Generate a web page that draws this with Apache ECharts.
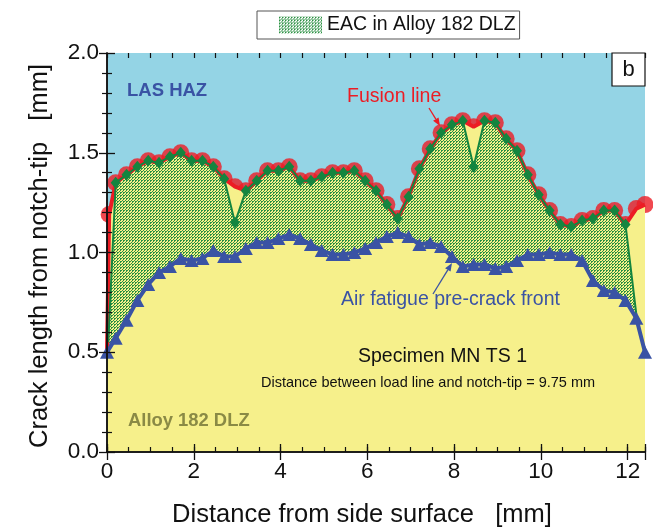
<!DOCTYPE html>
<html>
<head>
<meta charset="utf-8">
<script src="https://cdn.jsdelivr.net/npm/echarts@6/dist/echarts.min.js"></script>
<style>
  html, body { margin: 0; padding: 0; background: #ffffff; }
  #chart { width: 653px; height: 529px; }
</style>
</head>
<body>
<div id="chart"></div>
<script>
// Fusion line (LAS HAZ / Alloy 182 boundary), mm
const fusionX = [0, 0.05, 0.2, 0.45, 0.7, 0.95, 1.2, 1.45, 1.7, 1.95, 2.2, 2.45, 2.7, 2.95, 3.2, 3.45, 3.7, 3.95,
  4.2, 4.45, 4.7, 4.95, 5.2, 5.45, 5.7, 5.95, 6.2, 6.45, 6.7, 6.95, 7.2, 7.45, 7.7, 7.95, 8.2, 8.45, 8.7, 8.95,
  9.2, 9.45, 9.7, 9.95, 10.2, 10.45, 10.7, 10.95, 11.2, 11.45, 11.7, 11.95, 12.2, 12.4];
const fusionY = [0.50, 1.19, 1.35, 1.39, 1.43, 1.46, 1.45, 1.48, 1.50, 1.46, 1.46, 1.43, 1.37, 1.33, 1.31, 1.36, 1.41, 1.41,
  1.43, 1.36, 1.36, 1.38, 1.40, 1.40, 1.41, 1.36, 1.31, 1.24, 1.17, 1.28, 1.42, 1.52, 1.60, 1.64, 1.66, 1.63, 1.66, 1.65,
  1.57, 1.51, 1.39, 1.29, 1.21, 1.14, 1.13, 1.16, 1.17, 1.21, 1.21, 1.14, 1.22, 1.24];

// EAC crack front in Alloy 182 DLZ, mm
const eacX = [0.03, 0.2, 0.45, 0.7, 0.95, 1.2, 1.45, 1.7, 1.95, 2.2, 2.45, 2.7, 2.95, 3.2, 3.45, 3.7, 3.95,
  4.2, 4.45, 4.7, 4.95, 5.2, 5.45, 5.7, 5.95, 6.2, 6.45, 6.7, 6.95, 7.2, 7.45, 7.7, 7.95, 8.2, 8.45, 8.7, 8.95,
  9.2, 9.45, 9.7, 9.95, 10.2, 10.45, 10.7, 10.95, 11.2, 11.45, 11.7, 11.95, 12.2];
const eacY = [0.55, 1.35, 1.39, 1.43, 1.46, 1.45, 1.48, 1.50, 1.46, 1.46, 1.43, 1.37, 1.15, 1.31, 1.36, 1.41, 1.41,
  1.43, 1.36, 1.36, 1.38, 1.40, 1.40, 1.41, 1.36, 1.31, 1.24, 1.17, 1.28, 1.42, 1.52, 1.60, 1.64, 1.66, 1.43, 1.66, 1.65,
  1.57, 1.51, 1.39, 1.29, 1.21, 1.14, 1.13, 1.16, 1.17, 1.21, 1.21, 1.14, 0.69];

// Air fatigue pre-crack front, mm
const precrackX = [0, 0.2, 0.45, 0.7, 0.95, 1.2, 1.45, 1.7, 1.95, 2.2, 2.45, 2.7, 2.95, 3.2, 3.45, 3.7, 3.95,
  4.2, 4.45, 4.7, 4.95, 5.2, 5.45, 5.7, 5.95, 6.2, 6.45, 6.7, 6.95, 7.2, 7.45, 7.7, 7.95, 8.2, 8.45, 8.7, 8.95,
  9.2, 9.45, 9.7, 9.95, 10.2, 10.45, 10.7, 10.95, 11.2, 11.45, 11.7, 11.95, 12.2, 12.4];
const precrackY = [0.50, 0.57, 0.66, 0.76, 0.84, 0.90, 0.93, 0.97, 0.96, 0.97, 1.01, 0.98, 0.98, 1.02, 1.05, 1.05, 1.07,
  1.09, 1.07, 1.04, 1.01, 0.99, 0.99, 1.00, 1.02, 1.05, 1.08, 1.10, 1.08, 1.04, 1.05, 1.03, 0.98, 0.93, 0.94, 0.94, 0.92,
  0.93, 0.96, 0.99, 0.99, 1.00, 0.99, 0.99, 0.96, 0.86, 0.81, 0.80, 0.76, 0.67, 0.50];

// Axis tick labels
const xTickLabels = ['0', '2', '4', '6', '8', '10', '12'];
const yTickLabels = ['0.0', '0.5', '1.0', '1.5', '2.0'];

const BLUE_BG = '#94d4e5';
const YELLOW = '#f6f08b';
const RED = '#ec1c24';
const GREEN = '#14853f';
const BLUE = '#3a53a4';
const FONT = '"Liberation Sans", Arial, Helvetica, sans-serif';

function pts(xs, ys) { return xs.map((x, i) => [x, ys[i]]); }

// Cross-hatch tile for the EAC area (transparent gaps let the fill below show through)
function hatchTile() {
  const c = document.createElement('canvas');
  c.width = 3; c.height = 3;
  const g = c.getContext('2d');
  g.fillStyle = '#2a9042';
  g.fillRect(0, 0, 2, 1);
  g.fillRect(0, 1, 1, 1);
  g.fillRect(2, 2, 1, 1);
  return c;
}
const hatch = { image: hatchTile(), repeat: 'repeat' };

const chart = echarts.init(document.getElementById('chart'), null, { renderer: 'canvas' });

const gridBox = { left: 107, top: 53, right: 8, bottom: 77 };
const axisLine = { show: true, lineStyle: { color: '#111', width: 1.5 } };

function majorX(pos, labels) {
  return {
    type: 'value', gridIndex: 0, position: pos, min: 0, max: 12.4, interval: 2, z: 10,
    axisLine: axisLine,
    axisTick: { show: true, inside: true, length: 8, lineStyle: { color: '#111', width: 1.3 } },
    axisLabel: labels ? {
      show: true, margin: 8, fontSize: 22.5, fontFamily: FONT, color: '#111',
      formatter: v => { const s = xTickLabels.find(t => Math.abs(Number(t) - v) < 1e-6); return s || ''; }
    } : { show: false },
    splitLine: { show: false }
  };
}
function minorX(pos) {
  return {
    type: 'value', gridIndex: 1, position: pos, min: 0, max: 12.4, interval: 0.5, z: 10,
    axisLine: { show: false },
    axisTick: { show: true, inside: true, length: 5, lineStyle: { color: '#111', width: 1.2 } },
    axisLabel: { show: false }, splitLine: { show: false }
  };
}
function majorY(pos, labels) {
  return {
    type: 'value', gridIndex: 0, position: pos, min: 0, max: 2, interval: 0.5, z: 10,
    axisLine: axisLine,
    axisTick: { show: true, inside: true, length: 8, lineStyle: { color: '#111', width: 1.3 } },
    minorTick: { show: true, splitNumber: 5, length: 5, lineStyle: { color: '#111', width: 1.2 } },
    axisLabel: labels ? {
      show: true, margin: 8, fontSize: 22.5, fontFamily: FONT, color: '#111',
      formatter: v => { const s = yTickLabels.find(t => Math.abs(Number(t) - v) < 1e-6); return s || ''; }
    } : { show: false },
    splitLine: { show: false }, minorSplitLine: { show: false }
  };
}

function arrow(x1, y1, x2, y2, color, width) {
  const dx = x2 - x1, dy = y2 - y1, L = Math.hypot(dx, dy);
  const ux = dx / L, uy = dy / L, hl = 8, hw = 3.2;
  const bx = x2 - ux * hl, by = y2 - uy * hl;
  return [
    { type: 'line', z: 20, shape: { x1: x1, y1: y1, x2: bx, y2: by }, style: { stroke: color, lineWidth: width } },
    { type: 'polygon', z: 20, shape: { points: [[x2, y2], [bx - uy * hw, by + ux * hw], [bx + uy * hw, by - ux * hw]] },
      style: { fill: color } }
  ];
}

function label(text, x, y, size, color, weight) {
  return {
    type: 'text', x: x, y: y, z: 20,
    style: { text: text, fill: color, fontSize: size, fontFamily: FONT, fontWeight: weight || 'normal',
      align: 'left', verticalAlign: 'middle' }
  };
}

const option = {
  animation: false,
  backgroundColor: '#ffffff',
  grid: [
    Object.assign({ show: true, backgroundColor: BLUE_BG, borderWidth: 0 }, gridBox),
    Object.assign({ show: false }, gridBox)
  ],
  xAxis: [majorX('bottom', true), majorX('top', false), minorX('bottom'), minorX('top')],
  yAxis: [majorY('left', true), majorY('right', false),
    { type: 'value', gridIndex: 1, min: 0, max: 2, show: false }],
  legend: {
    left: 257, top: 11, selectedMode: false,
    padding: [4, 4, 4, 22],
    backgroundColor: '#ffffff', borderColor: '#555', borderWidth: 1, borderRadius: 0,
    itemWidth: 43, itemHeight: 17,
    textStyle: { fontSize: 19.5, fontFamily: FONT, color: '#111' },
    data: [{ name: 'EAC in Alloy 182 DLZ', icon: 'rect', itemStyle: { color: hatch, borderWidth: 0 } }]
  },
  series: [
    {
      // Alloy 182 below, LAS HAZ above the fusion line
      type: 'line', name: 'Fusion line', data: pts(fusionX, fusionY),
      showSymbol: false, symbol: 'none',
      lineStyle: { color: RED, width: 4 },
      areaStyle: { color: YELLOW, opacity: 1 }
    },
    {
      type: 'scatter', name: 'Fusion points', data: pts(fusionX, fusionY).slice(1),
      symbol: 'circle', symbolSize: 17, itemStyle: { color: RED }
    },
    {
      type: 'line', name: 'EAC in Alloy 182 DLZ', data: pts(eacX, eacY),
      showSymbol: false, symbol: 'none',
      lineStyle: { width: 0, opacity: 0 },
      itemStyle: { color: hatch },
      areaStyle: { color: hatch, opacity: 1 }
    },
    {
      type: 'line', name: 'Air fatigue pre-crack front', data: pts(precrackX, precrackY),
      symbol: 'triangle', symbolSize: [14, 13], showSymbol: true,
      lineStyle: { color: BLUE, width: 4 },
      itemStyle: { color: BLUE },
      areaStyle: { color: YELLOW, opacity: 1 }
    },
    {
      type: 'line', name: 'EAC front', data: pts(eacX, eacY).map((p, i, a) =>
        (i === 0 || i === a.length - 1) ? { value: p, symbol: 'none' } : p),
      symbol: 'diamond', symbolSize: [10, 12], showSymbol: true,
      lineStyle: { color: GREEN, width: 2 },
      itemStyle: { color: GREEN }
    }
  ],
  graphic: [
    label('LAS HAZ', 127, 91, 18.5, BLUE, 'bold'),
    label('Alloy 182 DLZ', 128, 421, 18.4, '#8a8a45', 'bold'),
    label('Fusion line', 347, 97, 19.5, RED),
    label('Air fatigue pre-crack front', 341, 300, 19.5, BLUE),
    label('Specimen MN TS 1', 358, 357, 19.5, '#111'),
    label('Distance between load line and notch-tip = 9.75 mm', 261, 383, 14.5, '#111'),
    ...arrow(429, 108, 440, 126, RED, 1.3),
    ...arrow(433, 294, 452, 263, BLUE, 1.3),
    {
      type: 'rect', z: 20, shape: { x: 612, y: 53, width: 33, height: 33 },
      style: { fill: '#ffffff', stroke: '#111', lineWidth: 1.2 }
    },
    {
      type: 'text', z: 21, x: 628.5, y: 70,
      style: { text: 'b', fontSize: 22, fontFamily: FONT, fill: '#111', align: 'center', verticalAlign: 'middle' }
    },
    {
      type: 'text', z: 20, x: 362, y: 515,
      style: { text: 'Distance from side surface   [mm]', fontSize: 25.5, fontFamily: FONT, fill: '#111',
        align: 'center', verticalAlign: 'middle' }
    },
    {
      type: 'text', z: 20, x: 40, y: 256, rotation: Math.PI / 2,
      style: { text: 'Crack length from notch-tip   [mm]', fontSize: 25.5, fontFamily: FONT, fill: '#111',
        align: 'center', verticalAlign: 'middle' }
    }
  ]
};

chart.setOption(option);
</script>
</body>
</html>
